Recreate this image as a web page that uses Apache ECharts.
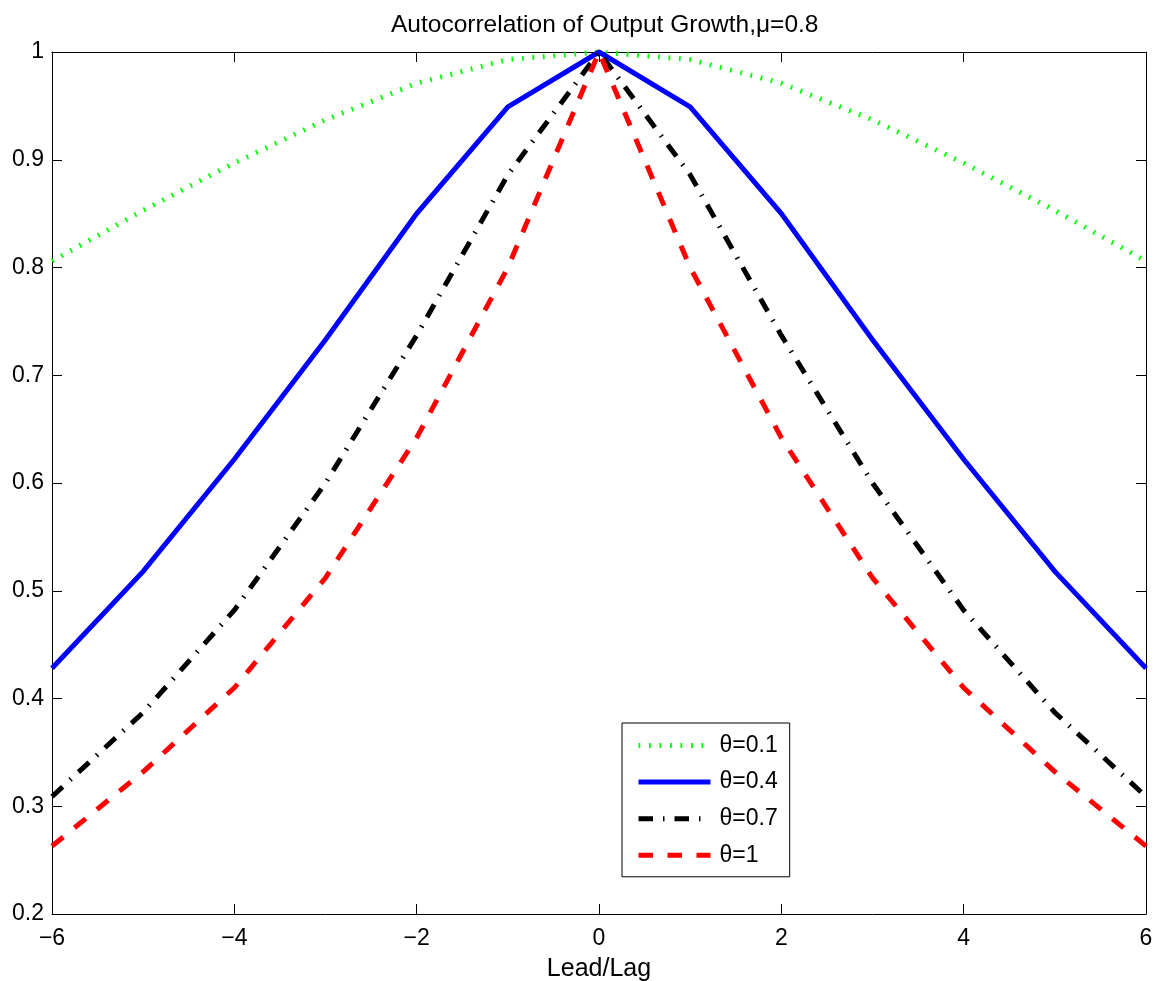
<!DOCTYPE html>
<html><head><meta charset="utf-8">
<script src="https://cdn.jsdelivr.net/npm/echarts@6/dist/echarts.min.js"></script>
<style>html,body{margin:0;padding:0;background:#fff}#c{width:1157px;height:981px}</style>
</head><body><div id="c"></div>
<script>
const lags = [-6,-5,-4,-3,-2,-1,0,1,2,3,4,5,6];
const theta01 = [0.806,0.853,0.897,0.937,0.971,0.993,1,0.993,0.971,0.937,0.897,0.853,0.806];
const theta04 = [0.428,0.518,0.622,0.733,0.850,0.949,1,0.949,0.850,0.733,0.622,0.518,0.428];
const theta07 = [0.309,0.387,0.482,0.600,0.737,0.886,1,0.886,0.737,0.600,0.482,0.387,0.309];
const theta10 = [0.263,0.332,0.410,0.512,0.642,0.800,1,0.800,0.642,0.512,0.410,0.332,0.263];
const seriesNames = ['θ=0.1','θ=0.4','θ=0.7','θ=1'];
const titleText = 'Autocorrelation of Output Growth,μ=0.8';
const xName = 'Lead/Lag';

const FONT = 'Liberation Sans, Arial, Helvetica, sans-serif';
const styles = [
  {color:'#00ff00', width:5, type:[1.8,8.7]},
  {color:'#0000ff', width:5, type:'solid'},
  {color:'#000000', width:5, type:[14.5,10,1.5,10]},
  {color:'#ff0000', width:5, type:[14.5,14.5]}
];
const values = [theta01, theta04, theta07, theta10];

const chart = echarts.init(document.getElementById('c'), null, {renderer:'canvas'});
const xFmt = v => v < 0 ? '\u2212' + (-v) : String(v);
const yFmt = v => String(+(+v).toFixed(1));
const axisCommon = {
  axisLine:{show:true, onZero:false, lineStyle:{color:'#000', width:1}},
  axisTick:{show:true, inside:true, length:10, lineStyle:{color:'#000', width:1}},
  splitLine:{show:false}
};
chart.setOption({
  animation:false,
  backgroundColor:'#fff',
  title:{text:titleText, left:386, top:8, textStyle:{fontFamily:FONT, fontSize:24.5, fontWeight:'normal', color:'#000'}},
  grid:{left:52, right:11, top:52, bottom:67, containLabel:false, outerBoundsMode:'none'},
  legend:{
    show:true,
    orient:'vertical', left:622, top:723,
    backgroundColor:'#fff', borderColor:'#000', borderWidth:1,
    padding:[11,12,10,14], itemWidth:72, itemHeight:14, itemGap:13.6,
    textStyle:{fontFamily:FONT, fontSize:23, color:'#000', padding:[0,0,0,4]},
    data: seriesNames.map((n,i)=>({name:n, lineStyle:{width:styles[i].width},
      itemStyle:{color:'rgba(0,0,0,0)', borderWidth:0, opacity:0}}))
  },
  xAxis:[
    Object.assign({type:'value', min:-6, max:6, interval:2, position:'bottom',
      name:xName, nameLocation:'middle', nameGap:43,
      nameTextStyle:{fontFamily:FONT, fontSize:25, color:'#000'},
      axisLabel:{formatter:xFmt, fontFamily:FONT, fontSize:23, color:'#000', margin:13}}, axisCommon),
    Object.assign({type:'value', min:-6, max:6, interval:2, position:'top', axisLabel:{show:false}}, axisCommon)
  ],
  yAxis:[
    Object.assign({type:'value', min:0.2, max:1, interval:0.1, position:'left',
      axisLabel:{formatter:yFmt, fontFamily:FONT, fontSize:23, color:'#000', margin:8}}, axisCommon),
    Object.assign({type:'value', min:0.2, max:1, interval:0.1, position:'right', axisLabel:{show:false}}, axisCommon)
  ],
  series: seriesNames.map((n,i)=>({
    name:n, type:'line', xAxisIndex:0, yAxisIndex:0,
    data: lags.map((x,j)=>[x, values[i][j]]),
    symbol:'none', showSymbol:false, smooth:false,
    lineStyle:{color:styles[i].color, width:styles[i].width, type:styles[i].type, cap:'butt', join:'miter'},
    itemStyle:{color:styles[i].color},
    emphasis:{disabled:true}
  }))
});
</script></body></html>
